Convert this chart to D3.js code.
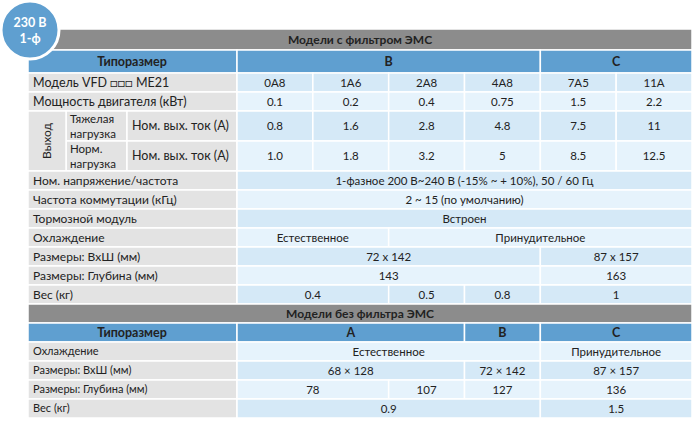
<!DOCTYPE html>
<html><head><meta charset="utf-8">
<script src="https://cdn.jsdelivr.net/npm/d3@7"></script>
<style>body{margin:0;background:#fff;font-family:Lato,"Open Sans",sans-serif}</style>
</head><body><svg width="700" height="429"></svg>
<script>
const svg = d3.select("svg");
// column edges: label column sub-parts and 6 value columns
const x = d3.scaleLinear().domain([0, 6]).range([237, 692]);
const left = 28;

// rows: type, height, cells [text, colStart, colEnd]
const rows = [
  {t: "title", h: 21, text: "Модели с фильтром ЭМС"},
  {t: "head", h: 23, label: "Типоразмер", cells: [["B",0,4],["C",4,6]]},
  {t: "row", h: 19, label: "Модель VFD \u25A1\u25A1\u25A1 ME21", big: true, cells: [["0A8",0,1],["1A6",1,2],["2A8",2,3],["4A8",3,4],["7A5",4,5],["11A",5,6]]},
  {t: "row", h: 19, label: "Мощность двигателя (кВт)", big: true, cells: [["0.1",0,1],["0.2",1,2],["0.4",2,3],["0.75",3,4],["1.5",4,5],["2.2",5,6]]},
  {t: "out", h: 30, sub: "Тяжелая|нагрузка", cells: [["0.8",0,1],["1.6",1,2],["2.8",2,3],["4.8",3,4],["7.5",4,5],["11",5,6]]},
  {t: "out", h: 30, sub: "Норм.|нагрузка", cells: [["1.0",0,1],["1.8",1,2],["3.2",2,3],["5",3,4],["8.5",4,5],["12.5",5,6]]},
  {t: "row", h: 19, label: "Ном. напряжение/частота", cells: [["1-фазное 200 В~240 В (-15% ~ + 10%), 50 / 60 Гц",0,6]]},
  {t: "row", h: 19, label: "Частота коммутации (кГц)", cells: [["2 ~ 15 (по умолчанию)",0,6]]},
  {t: "row", h: 19, label: "Тормозной модуль", cells: [["Встроен",0,6]]},
  {t: "row", h: 19, label: "Охлаждение", cells: [["Естественное",0,2],["Принудительное",2,6]]},
  {t: "row", h: 19, label: "Размеры: ВхШ (мм)", cells: [["72 x 142",0,4],["87 x 157",4,6]]},
  {t: "row", h: 19, label: "Размеры: Глубина (мм)", cells: [["143",0,4],["163",4,6]]},
  {t: "row", h: 19, label: "Вес (кг)", cells: [["0.4",0,2],["0.5",2,3],["0.8",3,4],["1",4,6]]},
  {t: "title", h: 19, text: "Модели без фильтра ЭМС"},
  {t: "head", h: 19, label: "Типоразмер", cells: [["A",0,3],["B",3,4],["C",4,6]]},
  {t: "row", h: 19, label: "Охлаждение", cells: [["Естественное",0,4],["Принудительное",4,6]]},
  {t: "row", h: 19, label: "Размеры: ВхШ (мм)", cells: [["68 × 128",0,3],["72 × 142",3,4],["87 × 157",4,6]]},
  {t: "row", h: 19, label: "Размеры: Глубина (мм)", cells: [["78",0,2],["107",2,3],["127",3,4],["136",4,6]]},
  {t: "row", h: 19, label: "Вес (кг)", cells: [["0.9",0,4],["1.5",4,6]]}
];

let y = 29, k = 0;
const g = svg.append("g");
function rect(x0, y0, w, h, fill) {
  g.append("rect").attr("x", x0).attr("y", y0).attr("width", w).attr("height", h)
    .attr("fill", fill).attr("stroke", "#fff").attr("stroke-width", 1.5);
}
function txt(tx, ty, s, o = {}) {
  g.append("text").attr("x", tx).attr("y", ty).attr("dy", "0.35em")
    .attr("text-anchor", o.anchor || "middle").attr("font-size", o.size || 11.5)
    .attr("font-weight", o.bold ? 700 : 400).attr("fill", o.fill || "#222")
    .attr("transform", o.rot ? `rotate(-90,${tx},${ty})` : null).text(s);
}
let outStart = null;
rows.forEach(r => {
  const cy = y + r.h / 2;
  if (r.t === "title") {
    rect(left, y, 692 - left, r.h, "#8c8c8c");
    txt(360, cy, r.text, {bold: true, size: 12});
  } else {
    const blue = r.t === "head";
    const fillV = blue ? "#5f9fd0" : (k % 2 === 0 ? "#d5e9f7" : "#e6f3fc");
    const fillL = blue ? "#5f9fd0" : "#e3e3e3";
    if (r.t === "out") {
      if (outStart === null) outStart = y;
      rect(66, y, 61, r.h, fillL);
      rect(127, y, 110, r.h, fillL);
      const [a, b] = r.sub.split("|");
      txt(70, cy - 7, a, {anchor: "start", size: 11.5});
      txt(70, cy + 8, b, {anchor: "start", size: 11.5});
      txt(132, cy, "Ном. вых. ток (А)", {anchor: "start", size: 12.5});
    } else {
      rect(left, y, 237 - left, r.h, fillL);
      if (blue) txt(132, cy, r.label, {bold: true, size: 12.5});
      else txt(33, cy, r.label, {anchor: "start", size: r.big ? 12.5 : (y > 330 ? 11 : 12)});
    }
    r.cells.forEach(([s, a, b]) => {
      rect(x(a), y, x(b) - x(a), r.h, fillV);
      txt((x(a) + x(b)) / 2, cy, s, blue ? {bold: true, size: 12.5} : {size: 11.5});
    });
    if (!blue) k++;
  }
  y += r.h;
  if (r.t === "out" && r.sub.startsWith("Норм")) {
    rect(left, outStart, 66 - left, y - outStart, "#e3e3e3");
    txt(47, (outStart + y) / 2, "Выход", {rot: true, size: 12});
  }
});

// badge
svg.append("circle").attr("cx", 30).attr("cy", 30).attr("r", 29)
  .attr("fill", "#5f9fd0").attr("stroke", "#fff").attr("stroke-width", 3);
svg.append("text").attr("x", 30).attr("y", 23).attr("text-anchor", "middle").attr("dy", "0.35em")
  .attr("fill", "#fff").attr("font-weight", 700).attr("font-size", 12.5).text("230 В");
svg.append("text").attr("x", 30).attr("y", 39).attr("text-anchor", "middle").attr("dy", "0.35em")
  .attr("fill", "#fff").attr("font-weight", 700).attr("font-size", 12.5).text("1-ф");
</script></body></html>
